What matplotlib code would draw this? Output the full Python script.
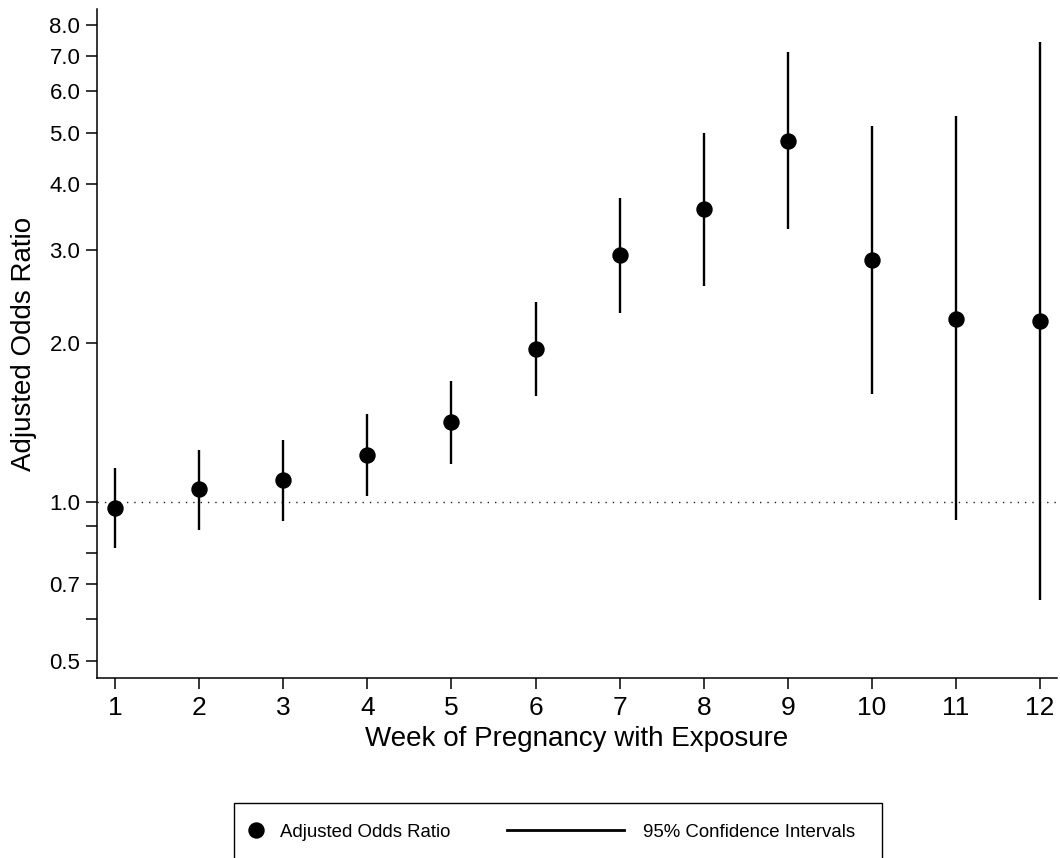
import matplotlib
matplotlib.use("Agg")
import matplotlib.pyplot as plt
from matplotlib.lines import Line2D
from matplotlib.patches import Rectangle
from matplotlib.ticker import FixedLocator, NullFormatter

plt.rcParams['font.family'] = ['Liberation Sans', 'DejaVu Sans']

weeks = [1, 2, 3, 4, 5, 6, 7, 8, 9, 10, 11, 12]
aor = [0.974, 1.057, 1.10, 1.226, 1.417, 1.95, 2.93, 3.59, 4.83, 2.87, 2.224, 2.20]
ci_lower = [0.817, 0.884, 0.92, 1.025, 1.18, 1.59, 2.28, 2.56, 3.29, 1.60, 0.924, 0.652]
ci_upper = [1.158, 1.256, 1.31, 1.466, 1.694, 2.395, 3.76, 5.0, 7.1, 5.15, 5.37, 7.43]

ytick_major = [0.5, 0.7, 1.0, 2.0, 3.0, 4.0, 5.0, 6.0, 7.0, 8.0]
ytick_labels = ["0.5", "0.7", "1.0", "2.0", "3.0", "4.0", "5.0", "6.0", "7.0", "8.0"]
ytick_minor = [0.6, 0.8, 0.9]
xtick_labels = [str(w) for w in weeks]

W, H = 1060, 858
fig = plt.figure(figsize=(W / 100, H / 100), dpi=100)
ax = fig.add_axes([97 / W, 1 - 678 / H, (1057 - 97) / W, (678 - 9) / H])

ax.set_yscale('log')
ax.set_ylim(0.464, 8.58)
ax.set_xlim(0.786, 12.2)

ax.axhline(1.0, color='#222222', lw=1.0, linestyle=(0, (1.0, 4.3)), zorder=1)
ax.vlines(weeks, ci_lower, ci_upper, color='black', lw=1.7, zorder=2)
ax.plot(weeks, aor, 'o', color='black', markersize=10.8, zorder=3)

ax.yaxis.set_major_locator(FixedLocator(ytick_major))
ax.set_yticklabels(ytick_labels)
ax.yaxis.set_minor_locator(FixedLocator(ytick_minor))
ax.yaxis.set_minor_formatter(NullFormatter())
ax.set_xticks(weeks)
ax.set_xticklabels(xtick_labels)

ax.tick_params(axis='y', which='both', length=8, width=1.1, labelsize=16, pad=4)
ax.tick_params(axis='x', which='both', length=8, width=1.1, labelsize=19, pad=5)

for s in ['top', 'right']:
    ax.spines[s].set_visible(False)
for s in ['left', 'bottom']:
    ax.spines[s].set_linewidth(1.1)

ax.set_ylabel('Adjusted Odds Ratio', fontsize=20, labelpad=9)
ax.set_xlabel('Week of Pregnancy with Exposure', fontsize=20, labelpad=4)

# legend frame (cut off by figure bottom as in reference)
frame = Rectangle((234 / W, -0.05), (882 - 234) / W, (1 - 802.7 / H) + 0.05,
                  transform=fig.transFigure, fill=False, edgecolor='black',
                  lw=1.0, clip_on=False)
fig.add_artist(frame)

h1 = Line2D([], [], marker='o', color='black', linestyle='none', markersize=10.8)
h2 = Line2D([], [], color='black', lw=2.0)
yc = 1 - 832 / H
fig.legend([h1], ['Adjusted Odds Ratio'], loc='center left',
           bbox_to_anchor=(246 / W, yc), frameon=False, fontsize=13.4,
           handlelength=1.05, handletextpad=0.8, borderpad=0, borderaxespad=0)
fig.legend([h2], ['95% Confidence Intervals'], loc='center left',
           bbox_to_anchor=(506.7 / W, yc), frameon=False, fontsize=13.4,
           handlelength=6.3, handletextpad=1.0, borderpad=0, borderaxespad=0)

fig.savefig('out.png', dpi=100)
